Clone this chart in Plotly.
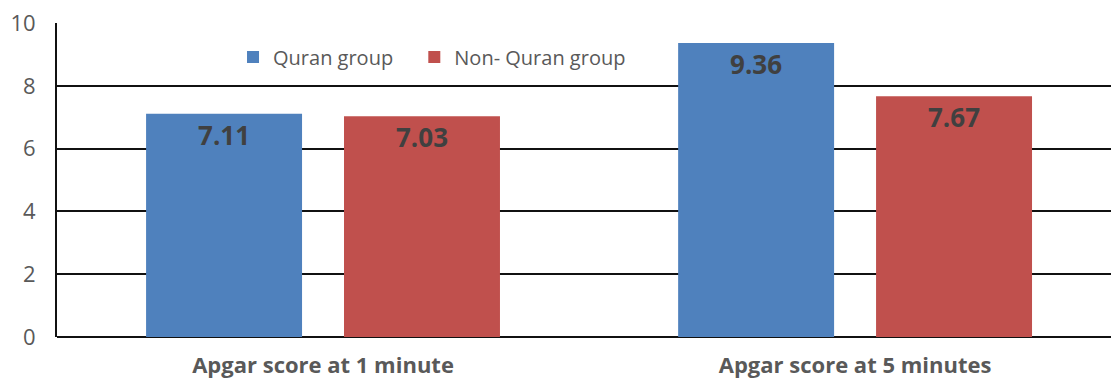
import plotly.graph_objects as go

categories = ["Apgar score at 1 minute", "Apgar score at 5 minutes"]
quran = [7.11, 9.36]
non_quran = [7.03, 7.67]
series_names = ["Quran group", "Non- Quran group"]
colors = ["#4F81BD", "#C0504D"]
legend_refs = ["legend", "legend2"]

font_family = "Open Sans"

fig = go.Figure()
for name, vals, col, lg in zip(series_names, [quran, non_quran], colors, legend_refs):
    fig.add_trace(go.Bar(
        x=categories, y=vals, name=name, marker=dict(color=col, line=dict(width=0)),
        text=[f"{v:.2f}" for v in vals], textposition="inside", insidetextanchor="end",
        textangle=0, legend=lg, showlegend=True,
        textfont=dict(family=font_family, size=26, color="#404040", weight="bold"),
    ))

legend_style = dict(orientation="h", y=0.892, xanchor="left", yanchor="middle",
                    font=dict(size=20, color="#595959"), itemwidth=30,
                    bgcolor="rgba(0,0,0,0)")

fig.update_layout(
    width=1111, height=383,
    margin=dict(l=57, r=0, t=23, b=46, pad=0, autoexpand=False),
    paper_bgcolor="white", plot_bgcolor="white",
    barmode="group", bargap=0.256, bargroupgap=0.212,
    font=dict(family=font_family, color="#595959", size=20),
    showlegend=True,
    legend=dict(x=0.167, **legend_style),
    legend2=dict(x=0.339, **legend_style),
    uniformtext=dict(mode=False),
)
fig.update_xaxes(range=[-0.5, 1.481], showgrid=False, showline=False, zeroline=False,
                 tickfont=dict(size=22, color="#595959", weight="bold"),
                 ticks="", ticklabelstandoff=13, automargin=False)
fig.update_yaxes(range=[0, 10], dtick=2, showgrid=True, gridcolor="#111111", gridwidth=2,
                 showline=True, linecolor="#111111", linewidth=2, zeroline=True,
                 zerolinecolor="#111111", zerolinewidth=2, automargin=False,
                 tickfont=dict(size=22, color="#595959"), ticks="", ticklabelstandoff=15)

fig.write_html("out.html")
